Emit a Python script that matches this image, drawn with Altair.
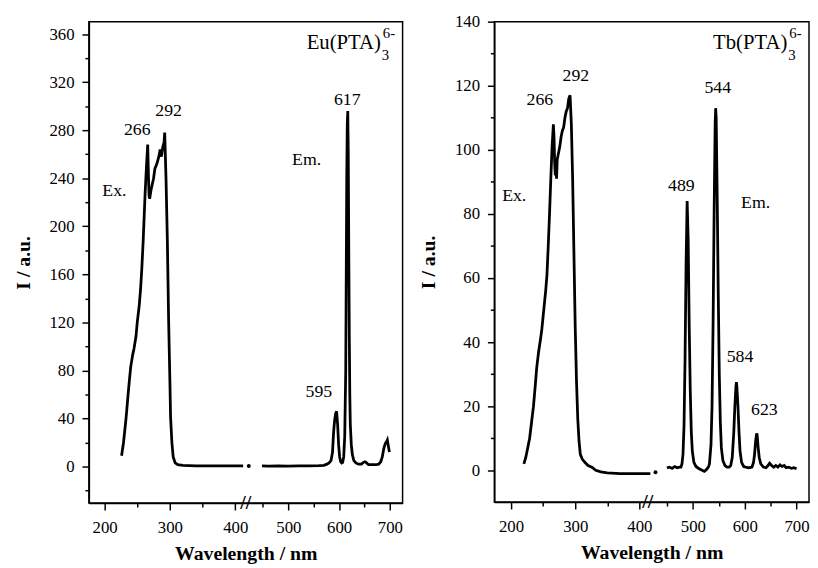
import altair as alt
import pandas as pd

# ---------------- data ----------------
# Eu(PTA)3 6- panel
eu_ex_nm = [226, 229, 233, 236, 238, 240, 243, 245, 248, 250, 253, 255, 257, 259, 262, 264, 266,
            267, 268, 269, 271, 273, 275, 277, 280, 283, 285, 287, 289, 291, 292, 294, 296, 298,
            300, 301, 303, 305, 308, 312, 320, 340, 360, 380, 400, 412]
eu_ex_I = [9, 20, 41, 60, 72, 83, 93, 98, 108, 120, 134, 147, 165, 187, 227, 249, 268,
           245, 226, 223, 230, 235, 240, 248, 252, 258, 264, 258, 266, 270, 278, 240, 190, 122,
           70, 41, 20, 8, 3, 1.5, 1, 0.5, 0.5, 0.5, 0.5, 0.5]
eu_dot_nm = [422]
eu_dot_I = [0.5]
eu_em_nm = [448, 460, 480, 500, 520, 540, 560, 570, 576, 580, 584, 587, 589, 591, 593, 595, 597,
            599, 601, 603, 605, 607, 609, 611, 613, 614, 615, 616, 617, 618, 619, 620, 621, 622,
            624, 626, 629, 633, 638, 644, 648, 651, 654, 658, 665, 672, 678, 682, 685, 688, 690,
            692, 694, 695, 697, 699]
eu_em_I = [0.5, 0.3, 0.5, 0.4, 0.5, 0.6, 0.8, 1, 2, 3, 5, 12, 28, 38, 44, 46, 35,
           18, 8, 4, 3, 3.5, 8, 25, 80, 160, 240, 285, 296, 260, 180, 110, 60, 35,
           18, 10, 5, 3, 2, 2, 3.5, 4, 3, 1.5, 1.5, 1.5, 2, 4, 8, 15, 18,
           20, 21, 22, 17, 12]
eu_lab_text = ["266", "292", "617", "Em.", "Ex.", "595"]
eu_lab_nm = [250, 298, 616, 536, 215, 560]
eu_lab_I = [280, 296, 305, 255, 229, 62]

# Tb(PTA)3 6- panel
tb_ex_nm = [220, 223, 226, 229, 232, 235, 238, 240, 243, 246, 248, 250, 252, 254, 256, 258, 260,
            262, 264, 266, 267, 268, 269, 270, 271, 272, 274, 276, 278, 280, 282, 284, 286, 288,
            290, 292, 294, 296, 298, 300, 302, 304, 306, 308, 311, 315, 320, 326, 332, 340, 350,
            370, 390, 410, 418]
tb_ex_I = [2, 4, 7, 10, 15, 20, 27, 32, 37, 41, 44, 48, 52, 56, 61, 70, 80,
           91, 101, 108, 104, 96, 92, 94, 91, 97, 99, 101, 104, 106, 107, 110, 112, 113,
           116, 117, 108, 91, 68, 45, 28, 16, 9, 5, 3.5, 2.5, 1.5, 1, 0, -0.5, -0.8,
           -1, -1, -1, -1]
tb_dot_nm = [428]
tb_dot_I = [-0.6]
tb_em_nm = [450, 455, 460, 465, 470, 474, 477, 479, 481, 483, 485, 487, 489, 491, 493, 495, 497,
            499, 502, 506, 512, 518, 522, 526, 530, 532, 535, 537, 539, 541, 543, 544, 545, 547,
            549, 551, 553, 555, 558, 562, 566, 570, 573, 576, 579, 581, 583, 584, 585, 587, 589,
            591, 594, 598, 602, 608, 614, 617, 619, 621, 623, 624, 626, 628, 631, 636, 641, 645,
            648, 652, 656, 660, 664, 668, 672, 676, 680, 685, 690, 695, 700]
tb_em_I = [0.8, 1.0, 0.6, 1.2, 0.8, 1.0, 1, 2, 5, 14, 35, 65, 84, 72, 45, 25, 12,
           6, 2.5, 1.2, 0.5, 0, -0.3, 0.2, 1, 2, 8, 20, 45, 80, 108, 113, 110, 85,
           55, 30, 15, 7, 3, 1.5, 1, 1, 1.5, 4, 12, 20, 26, 27.5, 26, 20, 12,
           6, 2.5, 1.2, 1, 0.8, 1, 2.5, 5, 9, 11.5, 11, 7, 4, 2, 1, 0.8, 1.5,
           2.2, 1.5, 1, 1.5, 1, 1.7, 1.2, 1.5, 0.8, 1, 0.6, 0.8, 0.5]
tb_lab_text = ["266", "292", "544", "489", "Ex.", "Em.", "584", "623"]
tb_lab_nm = [245, 301, 548, 478, 205, 621, 591, 638]
tb_lab_I = [115.4, 123, 119.4, 88.6, 85.5, 83.4, 35.4, 18.8]

x_ticks = [200, 250, 300, 350, 400, 450, 500, 550, 600, 650, 700]
eu_y_ticks = list(range(-20, 361, 20))
tb_y_ticks = list(range(-10, 141, 10))

FONT = "Liberation Serif"


def panel(name, ex_nm, ex_I, dot_nm, dot_I, em_nm, em_I, lab_text, lab_nm, lab_I,
          xdom, xrng, ydom, y_ticks, y_major, w, h):
    line_df = pd.DataFrame({
        "nm": list(ex_nm) + list(em_nm),
        "I": list(ex_I) + list(em_I),
        "seg": ["ex"] * len(ex_nm) + ["em"] * len(em_nm),
    })
    dot_df = pd.DataFrame({"nm": dot_nm, "I": dot_I})
    lab_df = pd.DataFrame({"nm": lab_nm, "I": lab_I, "t": lab_text})
    brk_df = pd.DataFrame({"nm": [xdom[1]], "t": ["//"]})

    xscale = alt.Scale(domain=xdom, range=xrng, nice=False, zero=False)
    yscale = alt.Scale(domain=ydom, nice=False, zero=False)
    xaxis = alt.Axis(
        values=x_ticks, grid=False,
        labelExpr="datum.value % 100 === 0 ? datum.label : ''",
        tickSize={"condition": {"test": "datum.value % 100 === 0", "value": 7}, "value": 4},
        labelPadding=10, titlePadding=8,
    )
    yaxis = alt.Axis(
        values=y_ticks, grid=False,
        labelExpr=f"datum.value % {y_major} === 0 ? datum.label : ''",
        tickSize={"condition": {"test": f"datum.value % {y_major} === 0", "value": 7}, "value": 4},
        labelPadding=8, titlePadding=16,
    )
    X = alt.X("nm:Q", scale=xscale, axis=xaxis, title="Wavelength / nm")
    Y = alt.Y("I:Q", scale=yscale, axis=yaxis, title="I / a.u.")

    lines = alt.Chart(line_df).mark_line(color="black", strokeWidth=2.8).encode(
        x=X, y=Y, detail="seg:N")
    dots = alt.Chart(dot_df).mark_circle(color="black", size=16, opacity=1).encode(x=X, y=Y)
    labels = alt.Chart(lab_df).mark_text(
        font=FONT, fontSize=18, color="black", align="center", baseline="middle"
    ).encode(x=X, y=Y, text="t:N")
    brk = alt.Chart(brk_df).mark_text(
        font=FONT, fontSize=20, fontWeight="bold", color="black",
        align="center", baseline="middle"
    ).encode(x=X, y=alt.value(h), text="t:N")

    main = alt.Chart(pd.DataFrame({"t": [name]})).mark_text(
        font=FONT, fontSize=21, color="black", align="right", baseline="alphabetic"
    ).encode(x=alt.value(w - 22), y=alt.value(28), text="t:N")
    sub = alt.Chart(pd.DataFrame({"t": ["3"]})).mark_text(
        font=FONT, fontSize=15, color="black", align="left", baseline="alphabetic"
    ).encode(x=alt.value(w - 21), y=alt.value(39), text="t:N")
    sup = alt.Chart(pd.DataFrame({"t": ["6-"]})).mark_text(
        font=FONT, fontSize=15, color="black", align="left", baseline="alphabetic"
    ).encode(x=alt.value(w - 20), y=alt.value(17), text="t:N")

    return alt.layer(lines, dots, labels, brk, main, sub, sup).properties(width=w, height=h)


eu = panel("Eu(PTA)", eu_ex_nm, eu_ex_I, eu_dot_nm, eu_dot_I, eu_em_nm, eu_em_I,
           eu_lab_text, eu_lab_nm, eu_lab_I,
           [176, 416, 725], [0, 159, 318], [-30.4, 370.4], eu_y_ticks, 40, 318, 488)
tb = panel("Tb(PTA)", tb_ex_nm, tb_ex_I, tb_dot_nm, tb_dot_I, tb_em_nm, tb_em_I,
           tb_lab_text, tb_lab_nm, tb_lab_I,
           [174, 413, 724], [0, 155.5, 319], [-9.9, 140], tb_y_ticks, 20, 319, 487)

chart = alt.hconcat(eu, tb, spacing=14).properties(
    padding={"left": 4, "top": 0, "right": 0, "bottom": 0},
    background="white",
).configure_view(
    stroke="black", strokeWidth=1.5
).configure_axis(
    domainColor="black", domainWidth=1.5, tickColor="black", tickWidth=1.5,
    labelFont=FONT, labelFontSize=17, labelColor="black",
    titleFont=FONT, titleFontSize=20, titleFontWeight="bold", titleColor="black",
)

chart.save("out.html", embed_options={"renderer": "svg", "actions": False})
